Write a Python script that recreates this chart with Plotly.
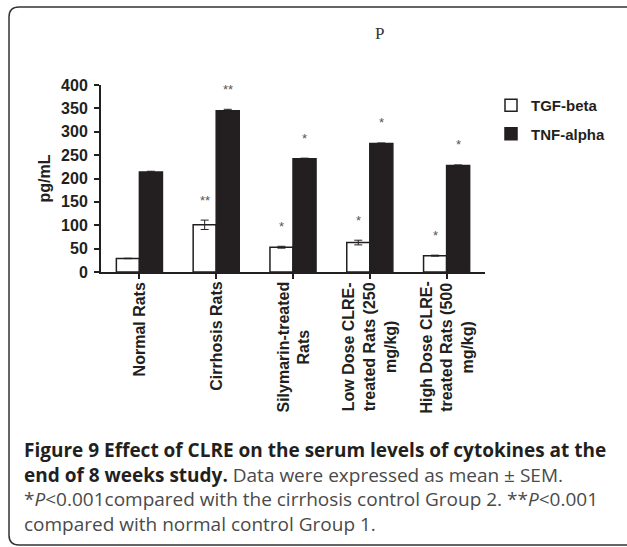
import plotly.graph_objects as go

# ---- data ----
categories = ["Normal Rats", "Cirrhosis Rats", "Silymarin-treated<br>Rats",
              "Low Dose CLRE-<br>treated Rats (250<br>mg/kg)",
              "High Dose CLRE-<br>treated Rats (500<br>mg/kg)"]
tgf_beta = [29, 101, 53, 63, 35]
tgf_err = [0.5, 10, 2, 5, 1]
tgf_stars = ["", "**", "*", "*", "*"]
tnf_alpha = [214, 345, 242, 275, 228]
tnf_err = [1.5, 3, 1.5, 1, 1]
tnf_stars = ["", "**", "*", "*", "*"]
y_ticks = [0, 50, 100, 150, 200, 250, 300, 350, 400]

W, H = 627, 547
L, R, T, B = 101, 142, 85, 275
PW, PH = W - L - R, H - T - B

def px(xp):
    return (xp - L) / PW

def py(yp):
    return (H - B - yp) / PH

BARGAP = 0.4
half = (1 - BARGAP) / 4  # offset of each bar centre from category centre
xs = list(range(len(categories)))

fig = go.Figure()
fig.add_trace(go.Bar(
    x=xs, y=tgf_beta, name="TGF-beta", legendgroup="a",
    marker=dict(color="white", line=dict(color="#231f20", width=1.5)),
    error_y=dict(type="data", array=tgf_err, color="#231f20", thickness=1, width=4),
))
fig.add_trace(go.Bar(
    x=xs, y=tnf_alpha, name="TNF-alpha", legendgroup="b",
    marker=dict(color="#231f20", line=dict(color="#231f20", width=1.5)),
    error_y=dict(type="data", array=tnf_err, color="#231f20", thickness=1, width=4),
))

annotations = []
for i in xs:
    for vals, errs, stars, sgn in ((tgf_beta, tgf_err, tgf_stars, -1),
                                   (tnf_alpha, tnf_err, tnf_stars, 1)):
        if stars[i]:
            annotations.append(dict(
                x=i + sgn * half, y=vals[i] + errs[i], xref="x", yref="y",
                text=stars[i], showarrow=False, yanchor="middle", yshift=20,
                font=dict(family="Arial", size=13, color="#555555")))
    annotations.append(dict(
        x=i, y=0, xref="x", yref="paper", text="<b>" + categories[i] + "</b>",
        showarrow=False, textangle=-90, xanchor="center", yanchor="top",
        yshift=-8, align="center",
        font=dict(family="Arial", size=16, color="#231f20")))

annotations.append(dict(
    x=px(379), y=py(33), xref="paper", yref="paper", text="P", showarrow=False,
    xanchor="center", yanchor="middle",
    font=dict(family="Liberation Serif", size=17, color="#333333")))

caption = ("<b>Figure 9 Effect of CLRE on the serum levels of cytokines at the</b><br>"
           "<b>end of 8 weeks study.</b><span style='color:#4a4a4a'> Data were expressed as mean ± SEM.</span><br>"
           "<span style='color:#4a4a4a'>*<i>P</i>&lt;0.001compared with the cirrhosis control Group 2. **<i>P</i>&lt;0.001</span><br>"
           "<span style='color:#4a4a4a'>compared with normal control Group 1.</span>")
annotations.append(dict(
    x=px(22), y=py(435), xref="paper", yref="paper", text=caption, showarrow=False,
    xanchor="left", yanchor="top", align="left",
    font=dict(family="Open Sans", size=19, color="#231f20")))

shapes = [dict(
    type="path", xref="paper", yref="paper",
    path=(f"M {px(640)},{py(7)} L {px(19)},{py(7)} Q {px(9)},{py(7)} {px(9)},{py(17)} "
          f"L {px(9)},{py(535)} Q {px(9)},{py(545)} {px(19)},{py(545)} L {px(640)},{py(545)}"),
    line=dict(color="#333333", width=1.5))]

fig.update_layout(
    width=W, height=H, margin=dict(l=L, r=R, t=T, b=B, autoexpand=False),
    paper_bgcolor="white", plot_bgcolor="white",
    barmode="group", bargap=BARGAP, bargroupgap=0,
    showlegend=True,
    legend=dict(x=px(491), y=py(89), xanchor="left", yanchor="top",
                font=dict(family="Arial", size=15, color="#231f20", weight="bold"),
                tracegroupgap=6, itemwidth=30, bgcolor="rgba(0,0,0,0)"),
    annotations=annotations, shapes=shapes,
    xaxis=dict(range=[-0.5, len(categories) - 0.5], tickvals=xs, ticktext=[""] * len(xs),
               showticklabels=False, ticks="outside", tickson="boundaries",
               ticklen=5, tickwidth=2, tickcolor="#231f20",
               showline=True, linecolor="#231f20", linewidth=2, showgrid=False,
               zeroline=False),
    yaxis=dict(range=[0, 400], tickvals=y_ticks, ticks="outside", ticklen=5, tickwidth=2,
               tickcolor="#231f20", showline=True, linecolor="#231f20", linewidth=2,
               showgrid=False, zeroline=False, ticklabelstandoff=3,
               tickfont=dict(family="Arial", size=16, color="#231f20", weight="bold"),
               title=dict(text="<b>pg/mL</b>", standoff=6,
                          font=dict(family="Arial", size=16, color="#231f20"))),
)

fig.write_html("out.html", config={"displayModeBar": False},
               post_script="document.body.style.margin='0';")
